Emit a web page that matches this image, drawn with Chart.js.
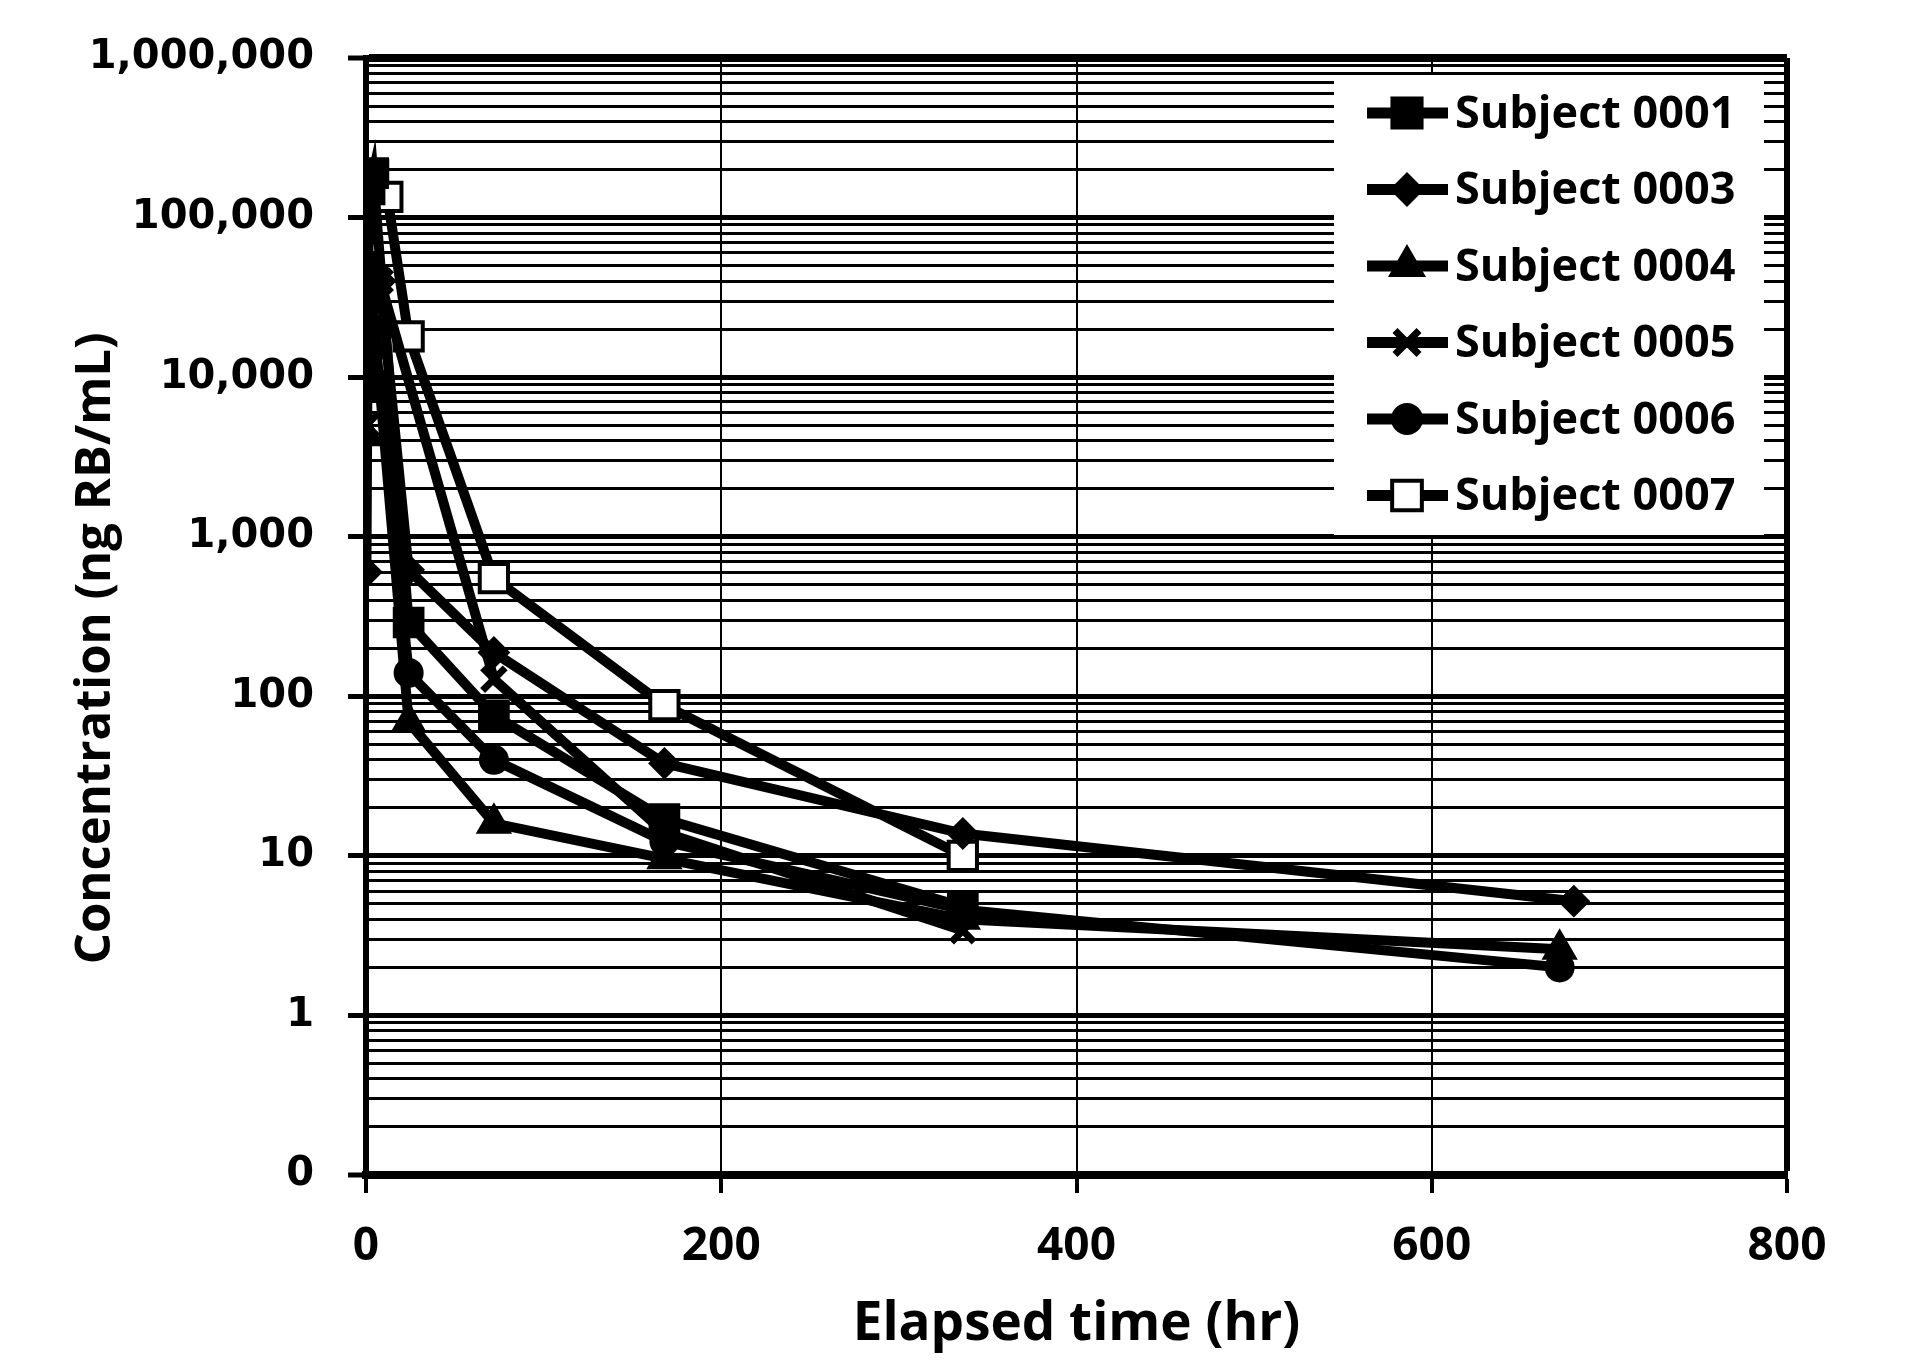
<!DOCTYPE html>
<html>
<head>
<meta charset="utf-8">
<title>Concentration vs elapsed time</title>
<script src="https://cdn.jsdelivr.net/npm/chart.js@4.4.1/dist/chart.umd.min.js"></script>
<style>
  html, body { margin: 0; padding: 0; background: #fff; }
  #wrap { width: 1907px; height: 1364px; }
</style>
</head>
<body>
<div id="wrap"><canvas id="pkChart" width="1907" height="1364"></canvas></div>
<script>
// --- data (hours, ng RB/mL) ---
const subjects = ['Subject 0001', 'Subject 0003', 'Subject 0004', 'Subject 0005', 'Subject 0006', 'Subject 0007'];

const hours0001 = [0.25, 2, 4, 24, 72, 168, 336];
const conc0001  = [13000, 150000, 190000, 290, 76, 17, 4.8];

const hours0003 = [0.25, 1, 4, 8, 24, 72, 168, 336, 680];
const conc0003  = [600, 30000, 48000, 40000, 620, 188, 38, 13.8, 5.2];

const hours0004 = [0.25, 1, 4, 8, 24, 72, 168, 336, 672];
const conc0004  = [4300, 22000, 15000, 8000, 69, 16, 9.6, 4.0, 2.6];

const hours0005 = [0.25, 1, 4, 8, 72, 168, 336];
const conc0005  = [5000, 24000, 35000, 40000, 128, 14, 3.4];

const hours0006 = [0.25, 1, 4, 8, 24, 72, 168, 336, 672];
const conc0006  = [28000, 30000, 20000, 9000, 140, 40, 12.3, 4.6, 2.0];

const hours0007 = [1, 4, 12, 24, 72, 168, 336];
const conc0007  = [170000, 185000, 135000, 18000, 550, 88, 10];

// axis ticks
const hourTicks    = [0, 200, 400, 600, 800];
const decadeTicks  = [0.1, 1, 10, 100, 1000, 10000, 100000, 1000000];
const decadeLabels = ['0', '1', '10', '100', '1,000', '10,000', '100,000', '1,000,000'];
const minorSteps   = [2, 3, 4, 5, 6, 7, 8, 9];

// --- helpers ---
function pts(hours, conc) {
  return hours.map((h, i) => ({ x: h, y: conc[i] }));
}

function isDecade(v) {
  return decadeTicks.some(d => Math.abs(d - v) / d < 1e-6);
}

function decadeLabel(v) {
  const i = decadeTicks.findIndex(d => Math.abs(d - v) / d < 1e-6);
  return i >= 0 ? decadeLabels[i] : '';
}

// every 1..9 line of each decade, like the Excel minor grid
const yGridValues = [];
decadeTicks.forEach((d, i) => {
  yGridValues.push(d);
  if (i < decadeTicks.length - 1) minorSteps.forEach(m => yGridValues.push(m * d));
});

function series(label, data, style, radius, fill, bw) {
  return {
    label: label,
    data: data,
    borderColor: '#000',
    borderWidth: 10,
    tension: 0,
    fill: false,
    pointStyle: style,
    pointRadius: radius,
    pointHoverRadius: radius,
    pointBackgroundColor: fill,
    pointBorderColor: '#000',
    pointBorderWidth: bw
  };
}

// legend drawn inside the plot, white box over the grid
const legendBox = {
  id: 'legendBox',
  afterDraw(chart) {
    const ctx = chart.ctx;
    ctx.save();
    ctx.fillStyle = '#fff';
    ctx.fillRect(1334, 75, 430, 460);
    chart.data.datasets.forEach((ds, i) => {
      const y = 113 + i * 76.5;
      ctx.strokeStyle = '#000';
      ctx.lineWidth = 11;
      ctx.beginPath();
      ctx.moveTo(1367, y);
      ctx.lineTo(1448, y);
      ctx.stroke();
      ctx.fillStyle = ds.pointBackgroundColor;
      ctx.strokeStyle = '#000';
      ctx.lineWidth = ds.pointBorderWidth;
      Chart.helpers.drawPoint(ctx, {
        pointStyle: ds.pointStyle,
        radius: ds.pointRadius + 1,
        borderWidth: ds.pointBorderWidth,
        rotation: 0
      }, 1407, y);
      ctx.fillStyle = '#000';
      ctx.font = 'bold 45px "Open Sans"';
      ctx.textAlign = 'left';
      ctx.textBaseline = 'middle';
      ctx.fillText(ds.label, 1455, y + 2);
    });
    ctx.restore();
  }
};

const ctx = document.getElementById('pkChart');
new Chart(ctx, {
  type: 'line',
  data: {
    datasets: [
      series(subjects[0], pts(hours0001, conc0001), 'rect', 21, '#000', 2),
      series(subjects[1], pts(hours0003, conc0003), 'rectRot', 15, '#000', 2),
      series(subjects[2], pts(hours0004, conc0004), 'triangle', 19, '#000', 2),
      series(subjects[3], pts(hours0005, conc0005), 'crossRot', 16, '#000', 7),
      series(subjects[4], pts(hours0006, conc0006), 'circle', 14, '#000', 2),
      series(subjects[5], pts(hours0007, conc0007), 'rect', 20, '#fff', 4)
    ]
  },
  options: {
    responsive: false,
    animation: false,
    devicePixelRatio: 1,
    layout: { padding: { top: 52, right: 120, bottom: 0, left: 0 } },
    plugins: {
      legend: { display: false },
      tooltip: { enabled: false }
    },
    scales: {
      x: {
        type: 'linear',
        min: 0,
        max: 800,
        afterFit(scale) { scale.height = 189; },
        afterBuildTicks(scale) { scale.ticks = hourTicks.map(v => ({ value: v })); },
        border: { display: true, color: '#000', width: 8 },
        grid: {
          color: '#000',
          lineWidth: c => (c.tick && c.tick.value === 800 ? 6 : 2),
          drawTicks: true,
          tickLength: 18,
          tickWidth: 4,
          tickColor: '#000'
        },
        ticks: {
          color: '#000',
          padding: 26,
          maxRotation: 0,
          font: { family: '"Open Sans"', weight: 'bold', size: 46 }
        },
        title: {
          display: true,
          text: 'Elapsed time (hr)',
          color: '#000',
          font: { family: '"Open Sans"', weight: 'bold', size: 53 },
          padding: { top: 0, bottom: 7 }
        }
      },
      y: {
        type: 'logarithmic',
        min: 0.1,
        max: 1000000,
        afterFit(scale) { scale.width = 366; },
        afterBuildTicks(scale) { scale.ticks = yGridValues.map(v => ({ value: v })); },
        border: { display: true, color: '#000', width: 6 },
        grid: {
          color: '#000',
          lineWidth: c => {
            if (!c.tick) return 3;
            if (c.tick.value >= 1000000 || c.tick.value <= 0.1) return 8;
            return isDecade(c.tick.value) ? 5 : 3;
          },
          drawTicks: true,
          tickLength: 18,
          tickWidth: 5,
          tickColor: c => (c.tick && isDecade(c.tick.value) ? '#000' : 'rgba(0,0,0,0)')
        },
        ticks: {
          color: '#000',
          padding: 34,
          autoSkip: false,
          font: { family: '"DejaVu Sans"', weight: 'bold', size: 40 },
          callback: v => decadeLabel(v)
        },
        title: {
          display: true,
          text: 'Concentration (ng RB/mL)     ',
          color: '#000',
          font: { family: '"Open Sans"', weight: 'bold', size: 49 },
          padding: { top: 67, bottom: 0 }
        }
      }
    }
  },
  plugins: [legendBox]
});
</script>
</body>
</html>
